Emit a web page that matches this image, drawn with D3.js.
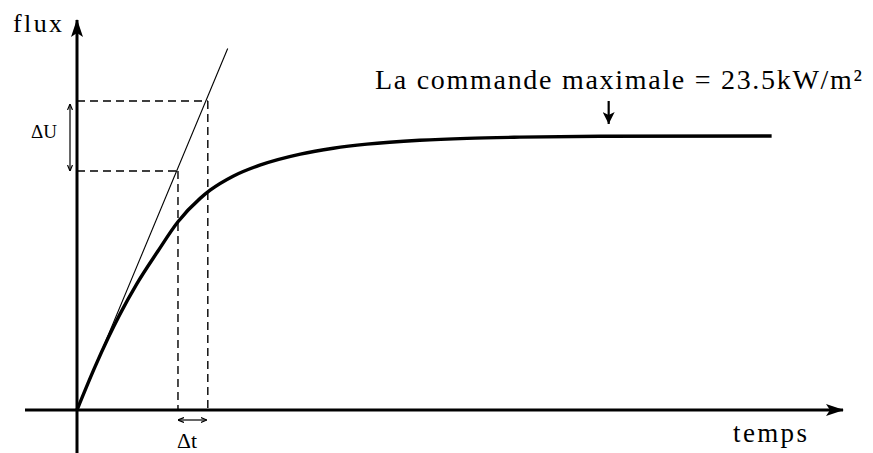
<!DOCTYPE html>
<html>
<head>
<meta charset="utf-8">
<script src="https://cdn.jsdelivr.net/npm/d3@7"></script>
<style>
  html, body { margin: 0; padding: 0; background: #fff; }
  svg { display: block; }
</style>
</head>
<body>
<svg id="chart" width="873" height="453"></svg>
<script>
// ---- data (time in arbitrary units, flux in kW/m²) ----
const curveTime = [0, 2.35, 4.05, 5.6, 7.8, 10.5, 13.2, 16.1, 17.4, 20.4, 23.9, 29.2, 33.5, 37.9, 44.8, 51, 57.9, 68.4, 90.8];
const curveFlux = [0, 3.7, 6.15, 8.2, 10.8, 13.55, 16.15, 18.15, 18.85, 20.05, 21.0, 21.95, 22.45, 22.8, 23.13, 23.3, 23.4, 23.48, 23.5];
const tangentTime = [0, 19.7];
const tangentFlux = [0, 31];
const deltaT = [13.2, 17.1];
const deltaU = [20.5, 26.5];
const maxFlux = 23.5;
const maxArrowTime = 69.5;
const labels = {
  yAxis: "flux",
  xAxis: "temps",
  max: "La commande maximale = 23.5kW/m²",
  dU: "ΔU",
  dT: "Δt"
};

// ---- scales ----
const x = d3.scaleLinear().domain([0, 100]).range([77, 842]);
const y = d3.scaleLinear().domain([0, maxFlux]).range([410, 136]);

const svg = d3.select("#chart");
const FONT = "'Liberation Serif', 'Times New Roman', serif";

// markers
const defs = svg.append("defs");
defs.append("marker").attr("id", "axisHead")
  .attr("viewBox", "0 0 18 12").attr("refX", 17).attr("refY", 6)
  .attr("markerUnits", "userSpaceOnUse")
  .attr("markerWidth", 18).attr("markerHeight", 12).attr("orient", "auto")
  .append("path").attr("d", "M0,0 L18,6 L0,12 L4,6 Z").attr("fill", "#000");
defs.append("marker").attr("id", "smallHead")
  .attr("viewBox", "0 0 6 6").attr("refX", 6).attr("refY", 3)
  .attr("markerUnits", "userSpaceOnUse")
  .attr("markerWidth", 6).attr("markerHeight", 6).attr("orient", "auto-start-reverse")
  .append("path").attr("d", "M0,0.5 L6,3 L0,5.5").attr("fill", "none").attr("stroke", "#000").attr("stroke-width", 1.2);
defs.append("marker").attr("id", "maxHead")
  .attr("viewBox", "0 0 12 12").attr("refX", 12).attr("refY", 6)
  .attr("markerUnits", "userSpaceOnUse")
  .attr("markerWidth", 12).attr("markerHeight", 12).attr("orient", "auto")
  .append("path").attr("d", "M0,0 L12,6 L0,12 L3,6 Z").attr("fill", "#000");

const line = d3.line().x(d => x(d[0])).y(d => y(d[1]));

// axes
const yTop = y.invert(20), yBottom = y.invert(453);
const xLeft = x.invert(25), xRight = x.invert(843);
svg.append("path").attr("d", line([[0, yBottom], [0, yTop]]))
  .attr("stroke", "#000").attr("stroke-width", 3).attr("fill", "none")
  .attr("marker-end", "url(#axisHead)");
svg.append("path").attr("d", line([[xLeft, 0], [xRight, 0]]))
  .attr("stroke", "#000").attr("stroke-width", 3).attr("fill", "none")
  .attr("marker-end", "url(#axisHead)");

// dashed construction lines
const dash = "8,5";
deltaT.forEach((t, i) => {
  const u = deltaU[i];
  svg.append("path").attr("d", line([[0, u], [t, u]]))
    .attr("stroke", "#000").attr("stroke-width", 1.4).attr("stroke-dasharray", dash).attr("fill", "none");
  svg.append("path").attr("d", line([[t, u], [t, 0]]))
    .attr("stroke", "#000").attr("stroke-width", 1.4).attr("stroke-dasharray", dash).attr("fill", "none");
});

// tangent
svg.append("path").attr("d", line(tangentTime.map((t, i) => [t, tangentFlux[i]])))
  .attr("stroke", "#000").attr("stroke-width", 1.1).attr("fill", "none");

// response curve
const curveLine = d3.line().x(d => x(d[0])).y(d => y(d[1])).curve(d3.curveMonotoneX);
svg.append("path").attr("d", curveLine(curveTime.map((t, i) => [t, curveFlux[i]])))
  .attr("stroke", "#000").attr("stroke-width", 3.4).attr("fill", "none")
  .attr("stroke-linejoin", "round");

// ΔU double arrow
const dUx = x(0) - 7;
svg.append("line").attr("x1", dUx).attr("x2", dUx)
  .attr("y1", y(deltaU[1]) + 3).attr("y2", y(deltaU[0]))
  .attr("stroke", "#000").attr("stroke-width", 1.2)
  .attr("marker-start", "url(#smallHead)").attr("marker-end", "url(#smallHead)");
svg.append("text").attr("x", 31).attr("y", 138).attr("font-size", 18)
  .attr("font-family", FONT)
  .attr("textLength", 26).attr("lengthAdjust", "spacingAndGlyphs").text(labels.dU);

// Δt double arrow
const dTy = y(0) + 10;
svg.append("line").attr("x1", x(deltaT[0])).attr("x2", x(deltaT[1]) - 1)
  .attr("y1", dTy).attr("y2", dTy)
  .attr("stroke", "#000").attr("stroke-width", 1.2)
  .attr("marker-start", "url(#smallHead)").attr("marker-end", "url(#smallHead)");
svg.append("text").attr("x", 177).attr("y", 448).attr("font-size", 20)
  .attr("font-family", FONT)
  .attr("textLength", 20).attr("lengthAdjust", "spacingAndGlyphs").text(labels.dT);

// max arrow
svg.append("line").attr("x1", x(maxArrowTime)).attr("x2", x(maxArrowTime))
  .attr("y1", 101).attr("y2", 124)
  .attr("stroke", "#000").attr("stroke-width", 2.2)
  .attr("marker-end", "url(#maxHead)");

// labels
svg.append("text").attr("x", 13).attr("y", 32).attr("font-size", 26)
  .attr("font-family", FONT)
  .attr("textLength", 49).attr("lengthAdjust", "spacing").text(labels.yAxis);
svg.append("text").attr("x", 733).attr("y", 442).attr("font-size", 27)
  .attr("font-family", FONT)
  .attr("textLength", 74).attr("lengthAdjust", "spacing").text(labels.xAxis);
svg.append("text").attr("x", 375).attr("y", 89).attr("font-size", 28)
  .attr("font-family", FONT)
  .attr("textLength", 487).attr("lengthAdjust", "spacing").text(labels.max);
</script>
</body>
</html>
